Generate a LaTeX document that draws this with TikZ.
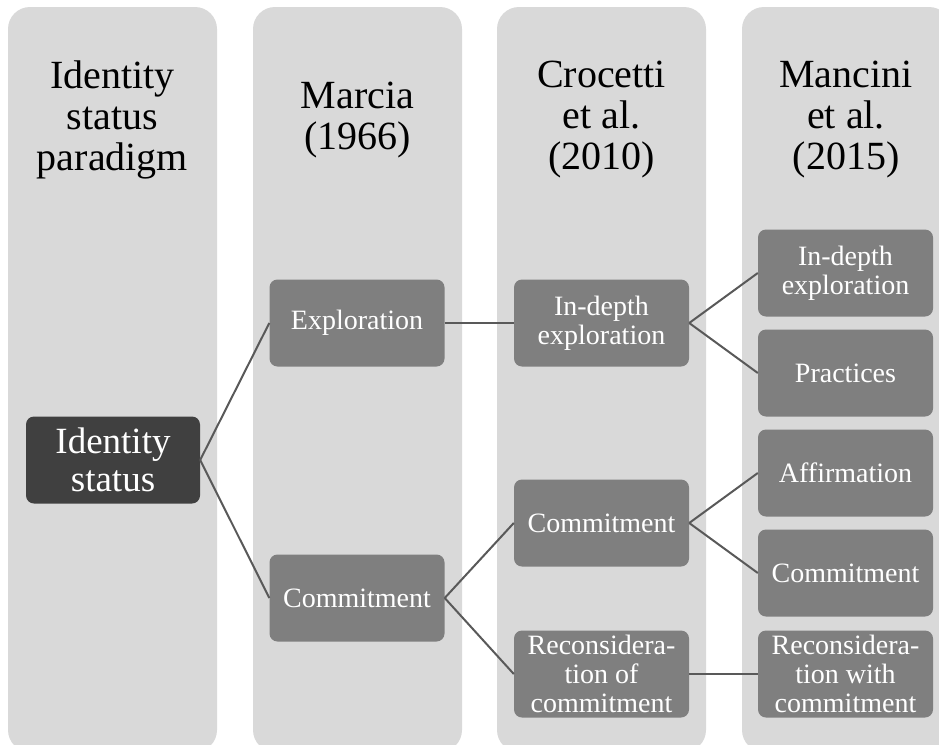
\documentclass[tikz,border=0pt]{standalone}
\usepackage{fontspec}
\setmainfont{Liberation Serif}
\usetikzlibrary{positioning}
\definecolor{colgray}{HTML}{D9D9D9}
\definecolor{boxgray}{HTML}{7F7F7F}
\definecolor{rootgray}{HTML}{404040}
\definecolor{linegray}{HTML}{595959}

\begin{document}
\begin{tikzpicture}[x=1pt, y=-1pt,
    column/.style={fill=colgray, rounded corners=22pt},
    header/.style={align=center, font=\fontsize{40}{41}\selectfont, text=black},
    rootbox/.style={rectangle, fill=rootgray, rounded corners=8pt, minimum width=174pt, minimum height=87pt, inner sep=0pt, align=center, text=white, font=\fontsize{37}{38}\selectfont},
    itembox/.style={rectangle, fill=boxgray, rounded corners=8pt, minimum width=175pt, minimum height=87pt, inner sep=0pt, align=center, text=white, font=\fontsize{28}{29}\selectfont},
    link/.style={draw=linegray, line width=2pt}
]
\useasboundingbox (0,0) rectangle (939,744);

% background columns
\foreach \cx in {112.5, 357.5, 601.5, 846.5}
  \fill[column] (\cx-104.5,7) rectangle (\cx+104.5,752);

\node[header] (hparadigm) at (112.5,120) {Identity\\status\\paradigm};
\node[header] (hmarcia) at (357.5,120) {Marcia\\(1966)};
\node[header] (hcrocetti) at (601.5,120) {Crocetti\\et al.\\(2010)};
\node[header] (hmancini) at (846,120) {Mancini\\et al.\\(2015)};

\node[rootbox] (status) at (113,460) {Identity\\status};

\node[itembox] (explor) at (357,323) {Exploration};
\node[itembox] (commit) at (357,598) {Commitment};

\node[itembox] (cdepth) at (601.5,323) {In-depth\\exploration};
\node[itembox] (ccommit) at (601.5,523) {Commitment};
\node[itembox] (crecons) at (601.5,674) {Reconsidera-\\tion of\\commitment};

\node[itembox] (mdepth) at (845.5,273) {In-depth\\exploration};
\node[itembox] (mpract) at (845.5,373) {Practices};
\node[itembox] (maffirm) at (845.5,473) {Affirmation};
\node[itembox] (mcommit) at (845.5,573) {Commitment};
\node[itembox] (mrecons) at (845.5,674) {Reconsidera-\\tion with\\commitment};

\draw[link] (status.east) -- (explor.west);
\draw[link] (status.east) -- (commit.west);
\draw[link] (explor.east) -- (cdepth.west);
\draw[link] (commit.east) -- (ccommit.west);
\draw[link] (commit.east) -- (crecons.west);
\draw[link] (cdepth.east) -- (mdepth.west);
\draw[link] (cdepth.east) -- (mpract.west);
\draw[link] (ccommit.east) -- (maffirm.west);
\draw[link] (ccommit.east) -- (mcommit.west);
\draw[link] (crecons.east) -- (mrecons.west);
\end{tikzpicture}
\end{document}
